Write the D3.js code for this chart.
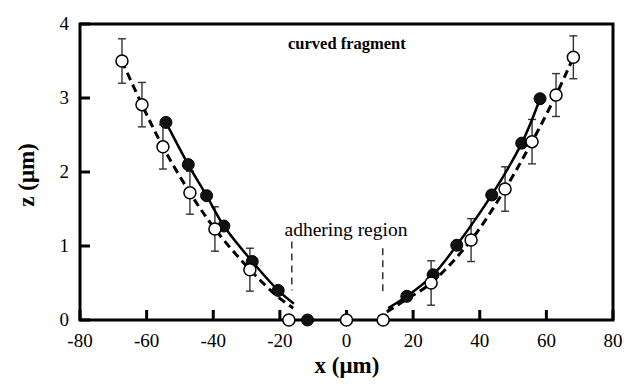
<!DOCTYPE html>
<html>
<head>
<meta charset="utf-8">
<script src="https://cdn.jsdelivr.net/npm/d3@7"></script>
<style>
  body { margin: 0; background: #fff; }
  svg text { font-family: "Liberation Serif", "DejaVu Serif", serif; }
</style>
</head>
<body>
<div id="chart"></div>
<script>
// open circles (dashed fit, with error bars)
const openX = [-67.4, -61.4, -55.1, -47, -39.5, -29, -17.3, 0, 11, 25.4, 37.4, 47.6, 55.7, 62.9, 68.1];
const openZ = [3.5, 2.91, 2.34, 1.72, 1.23, 0.68, 0, 0, 0, 0.5, 1.08, 1.77, 2.41, 3.04, 3.55];
const openErr = [0.3, 0.3, 0.3, 0.29, 0.3, 0.29, 0, 0, 0, 0.3, 0.29, 0.3, 0.3, 0.29, 0.29];

// filled circles (solid fit)
const filledX = [-54.2, -47.5, -42, -36.8, -28.3, -20.5, -11.7, 18.1, 26, 33.1, 43.6, 52.6, 58.1];
const filledZ = [2.67, 2.1, 1.68, 1.27, 0.79, 0.4, 0, 0.32, 0.61, 1.01, 1.69, 2.39, 2.99];

// fitted curves
const solidLeftX = [-54.2, -47.5, -42, -36.8, -28.3, -20.5, -15.8];
const solidLeftZ = [2.67, 2.1, 1.68, 1.27, 0.79, 0.4, 0.22];
const solidRightX = [12.5, 18.1, 26, 33.1, 43.6, 52.6, 58.1];
const solidRightZ = [0.16, 0.32, 0.61, 1.01, 1.69, 2.39, 2.99];
const dashLeftX = [-67.4, -61.4, -55.1, -47, -39.5, -29, -20.5, -16];
const dashLeftZ = [3.5, 2.91, 2.34, 1.72, 1.23, 0.68, 0.31, 0.16];
const dashRightX = [12.1, 18, 25.4, 37.4, 47.6, 55.7, 62.9, 68.1];
const dashRightZ = [0.11, 0.28, 0.5, 1.08, 1.77, 2.41, 3.04, 3.55];

// adhering region boundaries
const regionX = [-16.4, 10.9];
const regionTop = [1.06, 0.97];
const regionBottom = [0.4, 0.34];

const xTicks = [-80, -60, -40, -20, 0, 20, 40, 60, 80];
const yTicks = [0, 1, 2, 3, 4];

const W = 624, H = 386;
const svg = d3.select('#chart').append('svg').attr('width', W).attr('height', H);

const x = d3.scaleLinear().domain([-80, 80]).range([80, 613]);
const y = d3.scaleLinear().domain([0, 4]).range([320, 24]);

const pts = (xs, zs) => xs.map((v, i) => [v, zs[i]]);
const line = d3.line().x(d => x(d[0])).y(d => y(d[1])).curve(d3.curveCatmullRom);

// frame
svg.append('rect')
  .attr('x', x(-80)).attr('y', y(4))
  .attr('width', x(80) - x(-80)).attr('height', y(0) - y(4))
  .attr('fill', 'none').attr('stroke', '#000').attr('stroke-width', 3);

// ticks (inside)
svg.append('g').selectAll('line').data(xTicks).join('line')
  .attr('x1', d => x(d)).attr('x2', d => x(d))
  .attr('y1', y(0)).attr('y2', y(0) - 10)
  .attr('stroke', '#000').attr('stroke-width', 3);
svg.append('g').selectAll('line').data(yTicks).join('line')
  .attr('x1', x(-80)).attr('x2', x(-80) + 10)
  .attr('y1', d => y(d)).attr('y2', d => y(d))
  .attr('stroke', '#000').attr('stroke-width', 3);

// tick labels
svg.append('g').selectAll('text').data(xTicks).join('text')
  .attr('x', d => x(d)).attr('y', 347)
  .attr('text-anchor', 'middle').attr('font-size', 19)
  .text(d => d);
svg.append('g').selectAll('text').data(yTicks).join('text')
  .attr('x', 69).attr('y', d => y(d) + 6)
  .attr('text-anchor', 'end').attr('font-size', 19)
  .text(d => d);

// axis titles
svg.append('text')
  .attr('x', 347).attr('y', 373)
  .attr('text-anchor', 'middle').attr('font-size', 23).attr('font-weight', 'bold')
  .text('x (μm)');
svg.append('text')
  .attr('transform', 'translate(34,175) rotate(-90)')
  .attr('text-anchor', 'middle').attr('font-size', 23).attr('font-weight', 'bold')
  .text('z (μm)');

// adhering region markers
svg.append('g').selectAll('line').data(regionX).join('line')
  .attr('x1', d => x(d)).attr('x2', d => x(d))
  .attr('y1', (d, i) => y(regionTop[i])).attr('y2', (d, i) => y(regionBottom[i]))
  .attr('stroke', '#000').attr('stroke-width', 1.2).attr('stroke-dasharray', '7,5');
svg.append('text')
  .attr('x', 346).attr('y', 236)
  .attr('text-anchor', 'middle').attr('font-size', 19.5)
  .text('adhering region');

svg.append('text')
  .attr('x', 288).attr('y', 49)
  .attr('font-size', 16.5).attr('font-weight', 'bold')
  .text('curved fragment');

// error bars
const eb = svg.append('g').attr('stroke', '#333').attr('stroke-width', 1.4);
openX.forEach((v, i) => {
  const e = openErr[i];
  if (!e) return;
  const cx = x(v);
  eb.append('line').attr('x1', cx).attr('x2', cx).attr('y1', y(openZ[i] + e)).attr('y2', y(openZ[i] - e));
  eb.append('line').attr('x1', cx - 4).attr('x2', cx + 4).attr('y1', y(openZ[i] + e)).attr('y2', y(openZ[i] + e));
  eb.append('line').attr('x1', cx - 4).attr('x2', cx + 4).attr('y1', y(openZ[i] - e)).attr('y2', y(openZ[i] - e));
});

// fitted curves
[[dashLeftX, dashLeftZ], [dashRightX, dashRightZ]].forEach(([xs, zs]) => {
  svg.append('path').attr('d', line(pts(xs, zs)))
    .attr('fill', 'none').attr('stroke', '#000').attr('stroke-width', 3)
    .attr('stroke-dasharray', '8,5');
});
[[solidLeftX, solidLeftZ], [solidRightX, solidRightZ]].forEach(([xs, zs]) => {
  svg.append('path').attr('d', line(pts(xs, zs)))
    .attr('fill', 'none').attr('stroke', '#000').attr('stroke-width', 2.5);
});

// markers
svg.append('g').selectAll('circle').data(pts(filledX, filledZ)).join('circle')
  .attr('cx', d => x(d[0])).attr('cy', d => y(d[1])).attr('r', 6)
  .attr('fill', '#111').attr('stroke', '#000');
svg.append('g').selectAll('circle').data(pts(openX, openZ)).join('circle')
  .attr('cx', d => x(d[0])).attr('cy', d => y(d[1])).attr('r', 6)
  .attr('fill', '#fff').attr('stroke', '#000').attr('stroke-width', 1.5);
</script>
</body>
</html>
